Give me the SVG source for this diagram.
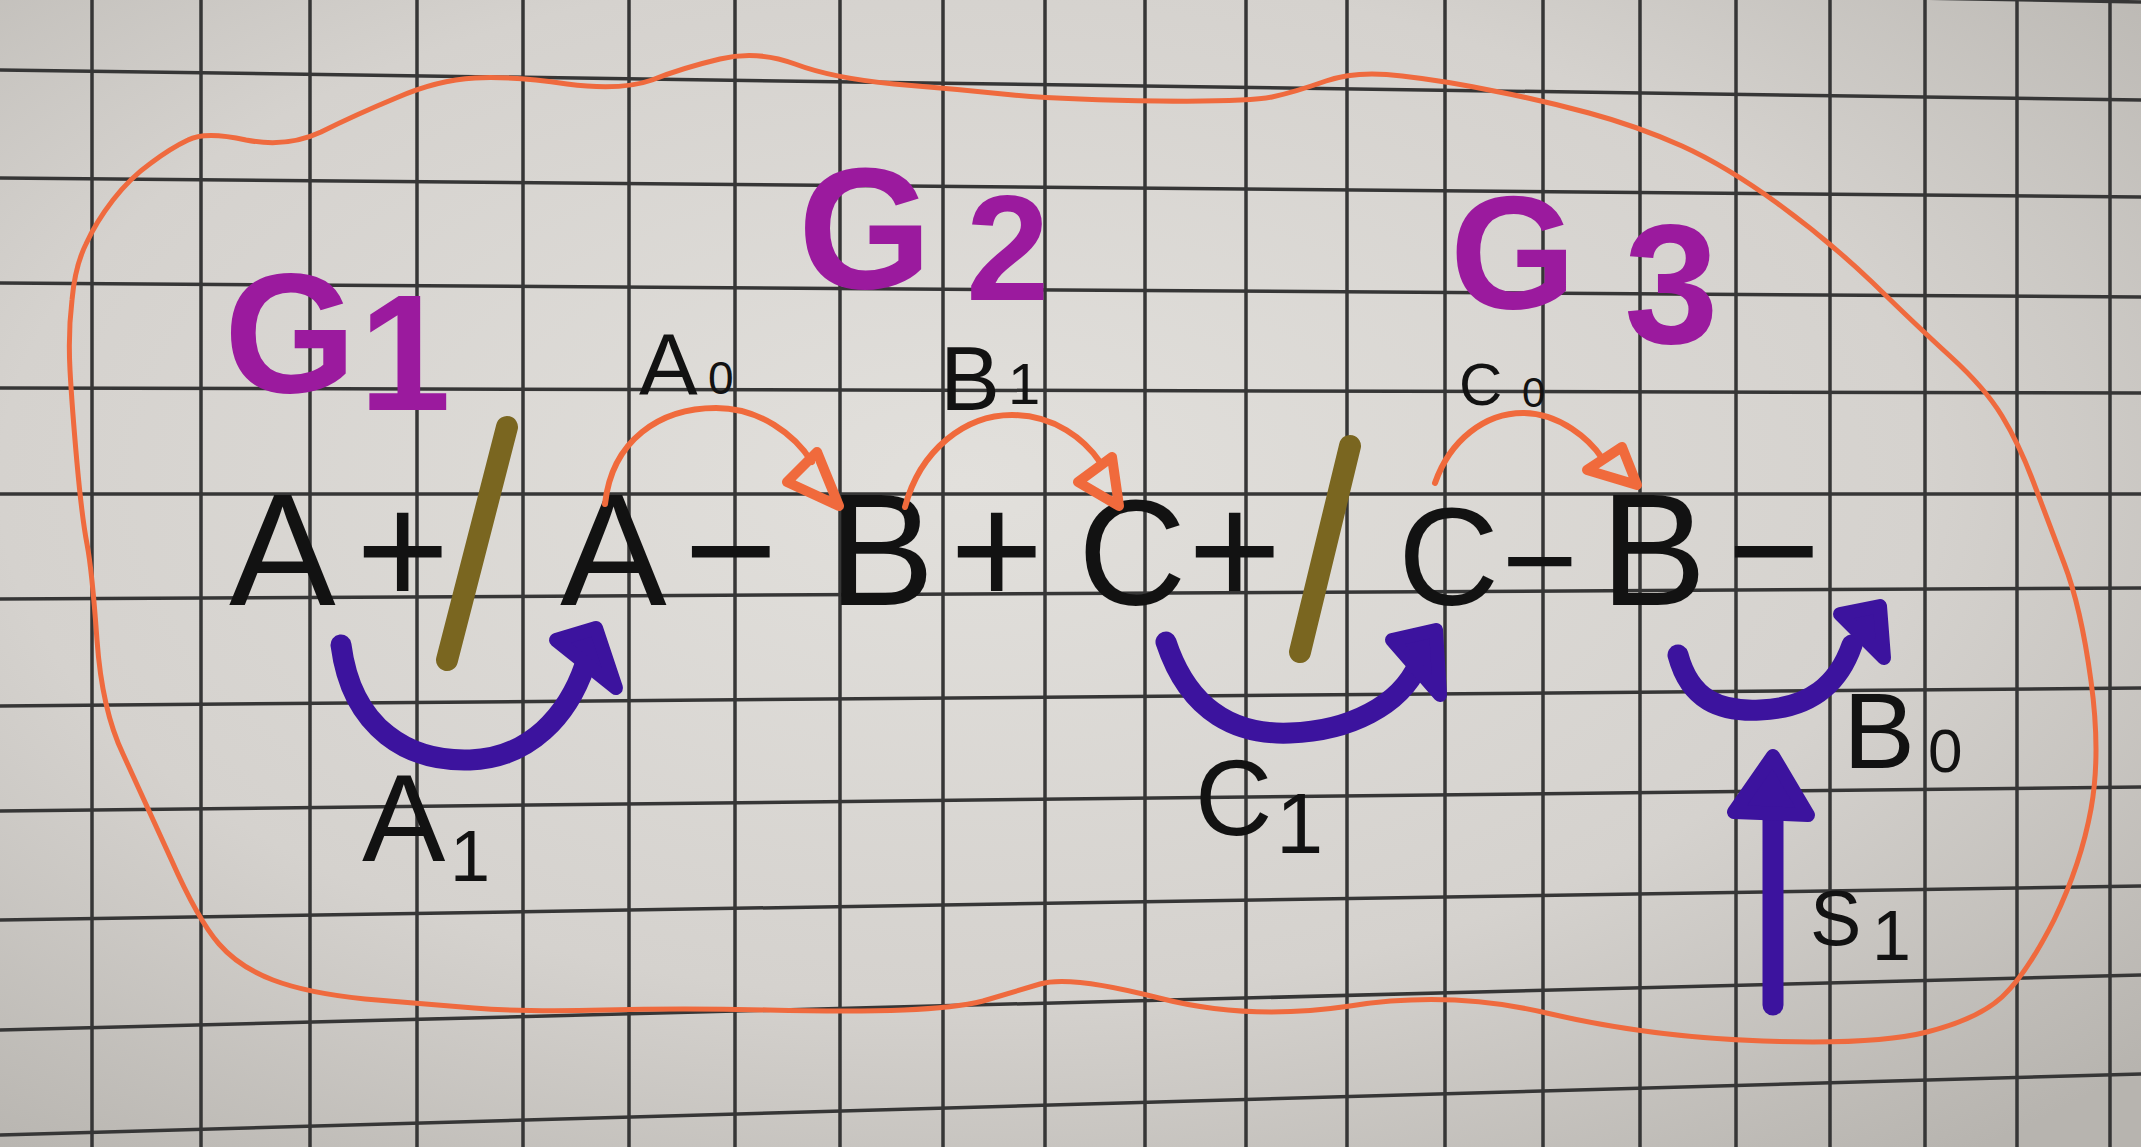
<svg xmlns="http://www.w3.org/2000/svg" width="2141" height="1147" viewBox="0 0 2141 1147">
<defs>
<radialGradient id="paper" cx="45%" cy="42%" r="75%">
<stop offset="0" stop-color="#e2e0dc"/>
<stop offset="0.6" stop-color="#d5d2ce"/>
<stop offset="1" stop-color="#b7b4af"/>
</radialGradient>
<style>
.grid line{stroke:#363636;stroke-width:3.5}
.outline{fill:none;stroke:#ef6a3e;stroke-width:5;stroke-linejoin:round}
.seq{font-family:"Liberation Sans",Arial,sans-serif;font-size:160px;fill:#121212}
.lbl{font-family:"Liberation Sans",Arial,sans-serif;fill:#121212}
.grp{font-family:"Liberation Sans",Arial,sans-serif;font-weight:bold;fill:#9b1a9e}
.oarc{fill:none;stroke:#f06a3c;stroke-width:6;stroke-linecap:round}
.ohead{fill:none;stroke:#f06a3c;stroke-width:10;stroke-linejoin:round}
.parc{fill:none;stroke:#3c139e;stroke-width:21;stroke-linecap:round}
.phead{fill:#3c139e;stroke:#3c139e;stroke-width:14;stroke-linejoin:round}
.slash{stroke:#7a6620;stroke-width:22;stroke-linecap:round}
</style>
</defs>
<rect x="0" y="0" width="2141" height="1147" fill="url(#paper)"/>
<g class="grid">
<line x1="92" y1="0" x2="92" y2="1147"/>
<line x1="201" y1="0" x2="201" y2="1147"/>
<line x1="310" y1="0" x2="310" y2="1147"/>
<line x1="417" y1="0" x2="417" y2="1147"/>
<line x1="523" y1="0" x2="523" y2="1147"/>
<line x1="629" y1="0" x2="629" y2="1147"/>
<line x1="735" y1="0" x2="735" y2="1147"/>
<line x1="840" y1="0" x2="840" y2="1147"/>
<line x1="943" y1="0" x2="943" y2="1147"/>
<line x1="1045" y1="0" x2="1045" y2="1147"/>
<line x1="1145" y1="0" x2="1145" y2="1147"/>
<line x1="1246" y1="0" x2="1246" y2="1147"/>
<line x1="1347" y1="0" x2="1347" y2="1147"/>
<line x1="1445" y1="0" x2="1445" y2="1147"/>
<line x1="1543" y1="0" x2="1543" y2="1147"/>
<line x1="1640" y1="0" x2="1640" y2="1147"/>
<line x1="1736" y1="0" x2="1736" y2="1147"/>
<line x1="1830" y1="0" x2="1830" y2="1147"/>
<line x1="1925" y1="0" x2="1925" y2="1147"/>
<line x1="2017" y1="0" x2="2017" y2="1147"/>
<line x1="2110" y1="0" x2="2110" y2="1147"/>
<line x1="0" y1="-36" x2="2141" y2="2"/>
<line x1="0" y1="70" x2="2141" y2="100"/>
<line x1="0" y1="178" x2="2141" y2="197"/>
<line x1="0" y1="283" x2="2141" y2="297"/>
<line x1="0" y1="388" x2="2141" y2="393"/>
<line x1="0" y1="494" x2="2141" y2="494"/>
<line x1="0" y1="599" x2="2141" y2="588"/>
<line x1="0" y1="706" x2="2141" y2="688"/>
<line x1="0" y1="811" x2="2141" y2="787"/>
<line x1="0" y1="920" x2="2141" y2="886"/>
<line x1="0" y1="1030" x2="2141" y2="975"/>
<line x1="0" y1="1135" x2="2141" y2="1074"/>
</g>
<path id="boundary" class="outline" d="M97,640 Q92,570 87,544 Q82,518 77,463 Q72,407 70,370 Q68,333 72,300 Q75,266 86,244 Q96,222 113,200 Q130,178 151,163 Q171,148 188,140 Q205,131 246,140 Q287,148 321,132 Q355,115 396,98 Q437,80 475,78 Q512,76 567,84 Q621,91 652,80 Q682,68 720,59 Q757,50 795,64 Q832,78 894,84 Q955,89 1013,95 Q1070,100 1159,101 Q1248,102 1272,97 Q1295,92 1326,81 Q1357,70 1402,76 Q1446,81 1494,91 Q1541,100 1589,113 Q1637,126 1682,146 Q1726,166 1777,203 Q1828,240 1873,283 Q1917,326 1951,357 Q1985,388 2002,416 Q2019,444 2033,481 Q2047,518 2064,563 Q2081,607 2091,681 Q2101,754 2091,809 Q2081,864 2054,920 Q2026,975 2002,997 Q1978,1019 1927,1032 Q1876,1045 1763,1041 Q1650,1037 1551,1014 Q1452,990 1350,1006 Q1248,1021 1159,998 Q1070,975 1040,984 Q1010,993 983,1001 Q955,1008 904,1010 Q853,1012 768,1010 Q682,1008 604,1010 Q525,1012 474,1008 Q423,1004 365,999 Q307,993 273,980 Q239,967 219,944 Q198,920 171,859 Q143,798 123,754 Q102,710 97,640 Z"/>
<g id="group-labels">
<g id="G1"><text class="grp" font-size="170"><tspan x="224" y="392">G</tspan><tspan x="359" y="410" font-size="165">1</tspan></text></g>
<g id="G2"><text class="grp" font-size="172"><tspan x="798" y="288">G</tspan><tspan x="966" y="300" font-size="150">2</tspan></text></g>
<g id="G3"><text class="grp" font-size="162"><tspan x="1450" y="308">G</tspan><tspan x="1624" y="343" font-size="170">3</tspan></text></g>
</g>
<g id="separators">
<line class="slash" x1="507" y1="427" x2="447" y2="660"/>
<line class="slash" x1="1350" y1="446" x2="1300" y2="652"/>
</g>
<g id="sequence">
<g id="n-A-plus"><text class="seq"><tspan x="229" y="605">A</tspan><tspan x="356" y="605">+</tspan></text></g>
<g id="n-A-minus"><text class="seq"><tspan x="560" y="605">A</tspan><tspan x="684" y="605">−</tspan></text></g>
<g id="n-B-plus"><text class="seq"><tspan x="828" y="605">B</tspan><tspan x="950" y="605">+</tspan></text></g>
<g id="n-C-plus"><text class="seq"><tspan x="1078" y="605" font-size="150">C</tspan><tspan x="1188" y="605">+</tspan></text></g>
<g id="n-C-minus"><text class="seq"><tspan x="1398" y="605" font-size="140">C</tspan><tspan x="1502" y="605" font-size="130">−</tspan></text></g>
<g id="n-B-minus"><text class="seq"><tspan x="1600" y="605">B</tspan><tspan x="1727" y="605">−</tspan></text></g>
</g>
<g id="connectors">
<path class="oarc" d="M605,504 C612,440 660,408 716,408 C760,408 795,435 812,462"/>
<polygon class="ohead" points="787,482 817,452 839,506"/>
<path class="oarc" d="M905,507 C920,450 965,415 1012,415 C1055,415 1085,440 1100,462"/>
<polygon class="ohead" points="1078,482 1112,457 1119,506"/>
<path class="oarc" d="M1435,483 C1450,440 1485,413 1523,413 C1560,413 1590,440 1602,458"/>
<polygon class="ohead" points="1587,470 1622,447 1637,485"/>
<path class="parc" d="M341,645 C352,730 410,762 470,760 C530,758 568,715 585,665"/>
<polygon class="phead" points="556,640 596,628 616,688"/>
<path class="parc" d="M1166,642 C1190,715 1240,735 1290,733 C1350,731 1400,705 1418,665"/>
<polygon class="phead" points="1392,640 1436,630 1440,695"/>
<path class="parc" d="M1678,655 C1690,700 1720,712 1760,710 C1810,708 1838,685 1852,645"/>
<polygon class="phead" points="1840,614 1880,606 1884,658"/>
<path class="parc" d="M1773,1005 L1773,800"/>
<polygon class="phead" points="1773,756 1734,812 1808,815"/>
</g>
<g id="connector-labels">
<g id="l-A0"><text class="lbl"><tspan x="639" y="395" font-size="88">A</tspan><tspan x="708" y="394" font-size="46">0</tspan></text></g>
<g id="l-B1"><text class="lbl"><tspan x="940" y="410" font-size="90">B</tspan><tspan x="1008" y="404" font-size="58">1</tspan></text></g>
<g id="l-C0"><text class="lbl"><tspan x="1459" y="405" font-size="60">C</tspan><tspan x="1522" y="407" font-size="42">0</tspan></text></g>
<g id="l-A1"><text class="lbl"><tspan x="362" y="861" font-size="125">A</tspan><tspan x="450" y="881" font-size="72">1</tspan></text></g>
<g id="l-C1"><text class="lbl"><tspan x="1195" y="835" font-size="107">C</tspan><tspan x="1276" y="853" font-size="85">1</tspan></text></g>
<g id="l-B0"><text class="lbl"><tspan x="1843" y="768" font-size="108">B</tspan><tspan x="1928" y="772" font-size="62">0</tspan></text></g>
<g id="l-S1"><text class="lbl"><tspan x="1810" y="945" font-size="77">S</tspan><tspan x="1872" y="960" font-size="70">1</tspan></text></g>
</g>
</svg>
